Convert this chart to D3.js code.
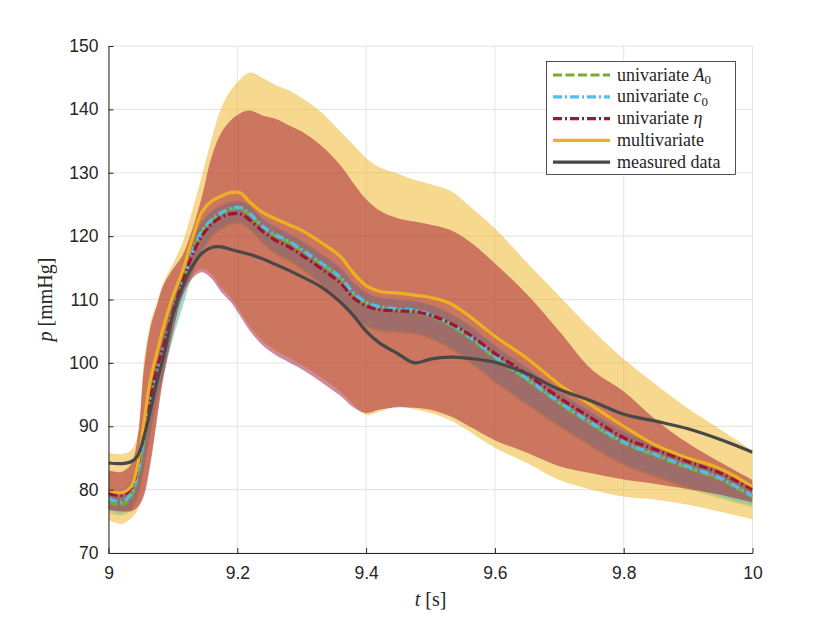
<!DOCTYPE html>
<html>
<head>
<meta charset="utf-8">
<script src="https://cdn.jsdelivr.net/npm/d3@7"></script>
<style>
  body { margin: 0; background: #fff; }
  svg { display: block; }
  .tick text { font-family: "Liberation Sans", Arial, sans-serif; font-size: 17.5px; fill: #262626; }
  .serif { font-family: "Liberation Serif", "Times New Roman", serif; fill: #262626; }
</style>
</head>
<body>
<div id="chart"></div>
<script>
// time grid [s], shared by all series
var t = [9.00, 9.02, 9.035, 9.045, 9.055, 9.065, 9.075, 9.085, 9.10, 9.115,
         9.13, 9.145, 9.16, 9.175, 9.19, 9.205, 9.22, 9.24, 9.26, 9.28,
         9.30, 9.33, 9.36, 9.38, 9.40, 9.42, 9.45, 9.475, 9.50, 9.53,
         9.56, 9.60, 9.65, 9.70, 9.75, 9.80, 9.85, 9.90, 9.95, 10.00];

// pressure [mmHg]
var measured = [84.2, 84.1, 84.4, 85.3, 88.3, 92.5, 97.0, 100.8, 107.5, 112.0,
                115.2, 117.3, 118.2, 118.3, 117.9, 117.5, 117.1, 116.4, 115.5, 114.6,
                113.6, 112.0, 109.6, 107.5, 105.0, 103.2, 101.4, 100.0, 100.6, 100.9,
                100.7, 100.1, 98.3, 95.8, 94.0, 91.9, 90.8, 89.6, 87.9, 85.9];
var multi = [79.9, 79.5, 80.5, 83.8, 90.5, 97.3, 101.5, 105.5, 110.5, 114.5,
             119.5, 123.8, 125.5, 126.3, 126.9, 126.8, 125.3, 123.7, 122.7, 121.8,
             120.9, 119.0, 116.8, 114.2, 112.2, 111.3, 111.0, 110.7, 110.3, 109.4,
             107.4, 104.2, 100.7, 96.6, 93.3, 90.0, 87.0, 85.0, 83.3, 80.5];
var uniA0 = [78.0, 77.6, 78.9, 82.2, 87.8, 93.3, 97.8, 101.3, 107.3, 112.3,
             117.3, 120.6, 122.4, 123.5, 124.2, 124.3, 123.3, 121.3, 120.0, 119.0,
             117.7, 115.6, 113.3, 110.9, 109.4, 108.7, 108.3, 108.1, 107.4, 106.0,
             104.0, 100.8, 97.3, 93.6, 90.3, 87.3, 85.3, 83.4, 81.6, 78.8];
var uniC0 = [78.6, 78.1, 79.3, 82.5, 88.0, 93.5, 98.0, 101.5, 107.5, 112.5,
             117.5, 120.8, 122.6, 123.7, 124.4, 124.5, 123.5, 121.5, 120.2, 119.2,
             117.9, 115.8, 113.5, 111.1, 109.6, 108.9, 108.5, 108.3, 107.6, 106.2,
             104.2, 101.0, 97.5, 93.8, 90.5, 87.5, 85.5, 83.6, 81.8, 79.0];
var uniEta = [79.4, 79.1, 80.2, 83.5, 89.2, 94.5, 99.0, 102.5, 108.0, 112.8,
              117.0, 120.0, 121.9, 123.0, 123.5, 123.5, 122.5, 120.7, 119.3, 118.3,
              117.0, 114.9, 112.6, 110.3, 109.0, 108.4, 108.2, 108.1, 107.5, 106.3,
              104.5, 101.5, 98.2, 94.5, 91.3, 88.2, 86.3, 84.4, 82.6, 80.0];

// uncertainty bands
var multiHi = [85.8, 85.6, 86.2, 88.5, 100.3, 106.3, 109.4, 112.6, 115.6, 119.0,
               124.0, 129.5, 135.3, 140.2, 143.0, 144.8, 145.8, 144.9, 143.8, 143.0,
               141.8, 139.6, 136.5, 134.4, 132.3, 130.9, 129.8, 128.9, 128.2, 127.2,
               124.8, 121.2, 115.8, 110.5, 105.3, 100.6, 96.6, 92.8, 89.5, 86.2];
var multiLo = [75.2, 74.6, 75.5, 76.8, 79.5, 84.5, 91.3, 98.0, 105.3, 111.0,
               113.8, 114.8, 114.0, 111.9, 110.3, 108.0, 105.7, 103.4, 101.9, 100.8,
               99.7, 97.7, 95.5, 93.5, 91.8, 92.3, 93.1, 92.7, 92.1, 91.0,
               89.2, 86.6, 84.2, 81.5, 80.0, 78.9, 78.4, 77.6, 76.5, 75.3];
var a0Hi = [80.0, 79.6, 81.2, 85.2, 91.2, 96.8, 100.8, 104.3, 109.8, 114.8,
            119.3, 122.1, 123.8, 124.7, 125.3, 125.4, 124.6, 122.6, 121.3, 120.3,
            119.1, 117.1, 114.9, 112.6, 111.0, 110.2, 109.8, 109.6, 109.0, 107.7,
            105.8, 102.6, 99.1, 95.3, 92.1, 89.0, 87.0, 85.1, 83.3, 80.8];
var a0Lo = [76.4, 75.9, 76.7, 78.7, 83.2, 88.7, 93.7, 97.7, 103.7, 108.7,
            113.7, 117.5, 119.7, 121.0, 121.7, 121.9, 120.9, 118.7, 117.1, 116.0,
            114.7, 112.3, 109.9, 107.4, 105.7, 105.0, 104.7, 104.5, 103.7, 102.2,
            100.1, 96.9, 93.3, 89.9, 86.7, 83.8, 81.9, 80.1, 78.6, 77.2];
var c0Hi = [80.2, 79.8, 81.5, 85.5, 91.5, 97.0, 101.0, 104.5, 110.0, 115.0,
            119.5, 122.3, 124.0, 124.9, 125.5, 125.6, 124.8, 122.8, 121.5, 120.5,
            119.3, 117.3, 115.1, 112.8, 111.2, 110.4, 110.0, 109.8, 109.2, 107.9,
            106.0, 102.8, 99.3, 95.5, 92.3, 89.2, 87.2, 85.3, 83.5, 81.0];
var c0Lo = [76.8, 76.3, 77.0, 79.0, 83.5, 89.0, 94.0, 98.0, 104.0, 109.0,
            114.0, 117.8, 120.0, 121.3, 122.0, 122.2, 121.2, 119.0, 117.4, 116.3,
            115.0, 112.6, 110.2, 107.7, 106.0, 105.3, 105.0, 104.8, 104.0, 102.5,
            100.4, 97.2, 93.6, 90.2, 87.0, 84.1, 82.2, 80.4, 78.9, 77.5];
var etaHi = [83.0, 82.8, 84.0, 88.0, 99.0, 105.5, 109.0, 112.2, 114.8, 117.0,
             121.0, 126.2, 132.5, 136.3, 138.3, 139.4, 139.8, 139.0, 138.5, 137.5,
             136.5, 134.3, 131.2, 128.4, 125.8, 124.1, 122.8, 122.3, 121.8, 121.0,
             119.2, 115.7, 110.8, 105.0, 99.0, 95.5, 91.0, 87.3, 84.3, 81.5];
var etaLo = [76.8, 76.6, 76.6, 77.2, 79.0, 84.0, 90.8, 97.5, 104.8, 110.5,
             113.3, 114.3, 113.3, 111.2, 109.6, 107.3, 105.0, 102.7, 101.2, 100.1,
             99.0, 97.0, 94.8, 93.0, 92.1, 92.6, 93.0, 92.9, 92.6, 91.6,
             90.0, 87.8, 85.8, 83.7, 82.6, 81.6, 80.9, 80.1, 79.2, 78.0];

var xTicks = [9, 9.2, 9.4, 9.6, 9.8, 10];
var xTickLabels = ['9', '9.2', '9.4', '9.6', '9.8', '10'];
var yTicks = [70, 80, 90, 100, 110, 120, 130, 140, 150];

var width = 830, height = 623,
    plotL = 108.5, plotR = 752.5, plotT = 46, plotB = 553;

var x = d3.scaleLinear().domain([9, 10]).range([plotL, plotR]),
    y = d3.scaleLinear().domain([70, 150]).range([plotB, plotT]);

var svg = d3.select('#chart').append('svg')
    .attr('width', width)
    .attr('height', height);

svg.append('defs').append('clipPath').attr('id', 'plot')
    .append('rect')
    .attr('x', plotL).attr('y', plotT)
    .attr('width', plotR - plotL).attr('height', plotB - plotT);

// grid
var grid = svg.append('g');
grid.selectAll('line.gx').data(xTicks).enter().append('line')
    .attr('x1', d => x(d)).attr('x2', d => x(d))
    .attr('y1', plotT).attr('y2', plotB)
    .attr('stroke', '#e3e3e3').attr('stroke-width', 1);
grid.selectAll('line.gy').data(yTicks).enter().append('line')
    .attr('x1', plotL).attr('x2', plotR)
    .attr('y1', d => y(d)).attr('y2', d => y(d))
    .attr('stroke', '#e3e3e3').attr('stroke-width', 1);

var curve = d3.curveCatmullRom.alpha(0.5);
var plot = svg.append('g').attr('clip-path', 'url(#plot)');

function band(lo, hi, color, opacity) {
    var area = d3.area()
        .x((d, i) => x(t[i]))
        .y0((d, i) => y(lo[i]))
        .y1((d, i) => y(hi[i]))
        .curve(curve);
    plot.append('path')
        .attr('d', area(t))
        .attr('fill', color)
        .attr('fill-opacity', opacity)
        .attr('stroke', 'none');
}

band(multiLo, multiHi, '#EDB120', 0.5);
band(a0Lo, a0Hi, '#77AC30', 0.3);
band(c0Lo, c0Hi, '#4DBEEE', 0.4);
band(etaLo, etaHi, '#A2142F', 0.5);

var series = [
    { values: uniA0, color: '#77AC30', dash: '9,3.5' },
    { values: uniC0, color: '#4DBEEE', dash: '9,3,2,3' },
    { values: uniEta, color: '#A2142F', dash: '9,3,2,3' },
    { values: multi, color: '#EDB120', dash: null },
    { values: measured, color: '#484848', dash: null }
];

series.forEach(function (s) {
    var line = d3.line()
        .x((d, i) => x(t[i]))
        .y(d => y(d))
        .curve(curve);
    plot.append('path')
        .attr('d', line(s.values))
        .attr('fill', 'none')
        .attr('stroke', s.color)
        .attr('stroke-width', 3.2)
        .attr('stroke-dasharray', s.dash)
        .attr('stroke-linejoin', 'round');
});

// axes (left and bottom only, ticks pointing inward)
var yAxis = d3.axisLeft(y).tickValues(yTicks).tickSizeInner(-5).tickSizeOuter(0).tickPadding(10);
var xAxis = d3.axisBottom(x).tickValues(xTicks).tickFormat((d, i) => xTickLabels[i])
    .tickSizeInner(-5).tickSizeOuter(0).tickPadding(14);

svg.append('g').attr('transform', 'translate(' + plotL + ',0)').call(yAxis)
    .call(g => g.selectAll('path, line').attr('stroke', '#262626'));
svg.append('g').attr('transform', 'translate(0,' + plotB + ')').call(xAxis)
    .call(g => g.selectAll('path, line').attr('stroke', '#262626'));

// axis labels
var ylab = svg.append('text').attr('class', 'serif')
    .attr('transform', 'translate(52,' + ((plotT + plotB) / 2) + ') rotate(-90)')
    .attr('text-anchor', 'middle')
    .attr('font-size', 20);
ylab.append('tspan').attr('font-style', 'italic').text('p');
ylab.append('tspan').text(' [mmHg]');

var xlab = svg.append('text').attr('class', 'serif')
    .attr('x', (plotL + plotR) / 2).attr('y', 606)
    .attr('text-anchor', 'middle')
    .attr('font-size', 20);
xlab.append('tspan').attr('font-style', 'italic').text('t');
xlab.append('tspan').text(' [s]');

// legend
var legend = svg.append('g');
legend.append('rect')
    .attr('x', 546.5).attr('y', 61.5)
    .attr('width', 189).attr('height', 113)
    .attr('fill', '#fff')
    .attr('stroke', '#262626')
    .attr('stroke-width', 0.8);

var entries = [
    { label: ['univariate ', 'A', '0'], color: '#77AC30', dash: '9,3.5' },
    { label: ['univariate ', 'c', '0'], color: '#4DBEEE', dash: '9,3,2,3' },
    { label: ['univariate ', '\u03B7', ''], color: '#A2142F', dash: '9,3,2,3' },
    { label: ['multivariate', '', ''], color: '#EDB120', dash: null },
    { label: ['measured data', '', ''], color: '#484848', dash: null }
];

entries.forEach(function (e, i) {
    var yy = 75 + i * 21.8;
    legend.append('line')
        .attr('x1', 553).attr('x2', 610)
        .attr('y1', yy).attr('y2', yy)
        .attr('stroke', e.color)
        .attr('stroke-width', 3.2)
        .attr('stroke-dasharray', e.dash);
    var txt = legend.append('text').attr('class', 'serif')
        .attr('x', 617).attr('y', yy + 5.5)
        .attr('font-size', 18);
    txt.append('tspan').text(e.label[0]);
    if (e.label[1]) txt.append('tspan').attr('font-style', 'italic').text(e.label[1]);
    if (e.label[2]) txt.append('tspan').attr('font-size', 13).attr('dy', 3.5).text(e.label[2]);
});
</script>
</body>
</html>
